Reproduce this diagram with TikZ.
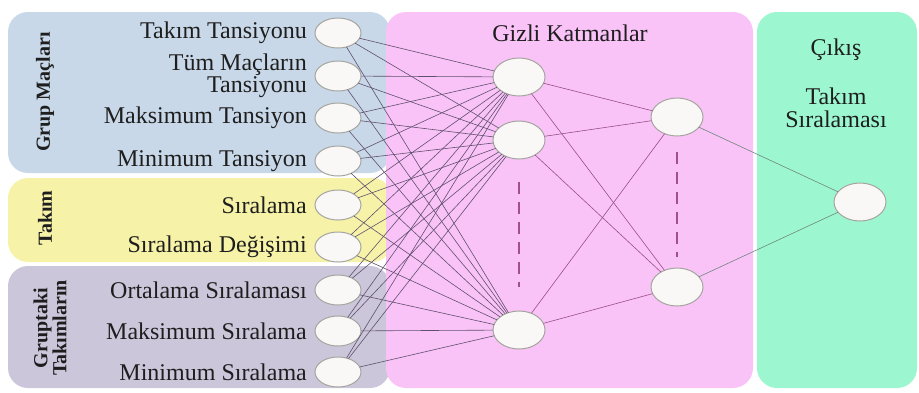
\documentclass[tikz,border=0pt]{standalone}
\usepackage{fontspec}
\setmainfont{Liberation Serif}
\usepackage{tkz-graph}
\usetikzlibrary{shapes.geometric}

\begin{document}
\begin{tikzpicture}[x = 1pt, y = -1pt]
\tikzstyle{VertexStyle} = []
\tikzstyle{EdgeStyle} = [line width = 0.6pt, draw = {rgb,255:red,95; green,80; blue,110}]
\tikzstyle{inputStyle} = [shape = ellipse, minimum width = 46pt, minimum height = 30pt, inner sep = 0pt, draw = {rgb,255:red,165; green,165; blue,160}, line width = 1pt, fill = {rgb,255:red,250; green,248; blue,246}]
\tikzstyle{hiddenStyle} = [shape = ellipse, minimum width = 52pt, minimum height = 38pt, inner sep = 0pt, draw = {rgb,255:red,165; green,165; blue,160}, line width = 1pt, fill = {rgb,255:red,250; green,248; blue,246}]
\tikzstyle{groupStyle} = [rounded corners = 20pt]
\tikzstyle{labelStyle} = [font = \fontsize{24}{22.5}\selectfont, text = {rgb,255:red,30; green,30; blue,30}, inner sep = 0pt]
\tikzstyle{titleStyle} = [font = \bfseries\fontsize{20}{19}\selectfont, text = {rgb,255:red,30; green,30; blue,30}, rotate = 90, inner sep = 0pt, align = center]
\tikzstyle{dashStyle} = [line width = 2.5pt, dash pattern = on 12pt off 8pt, draw = {rgb,255:red,160; green,80; blue,140}]
\useasboundingbox (0,0) rectangle (919,392);
% grup kutulari
\fill[groupStyle, fill = {rgb,255:red,200; green,216; blue,232}] (8,12) rectangle (390,173);
\fill[groupStyle, fill = {rgb,255:red,246; green,243; blue,168}] (8,178) rectangle (392,262);
\fill[groupStyle, fill = {rgb,255:red,204; green,198; blue,218}] (8,266) rectangle (390,388);
\fill[groupStyle, fill = {rgb,255:red,250; green,195; blue,247}] (386,12) rectangle (753,388);
\fill[groupStyle, fill = {rgb,255:red,156; green,247; blue,208}] (757,12) rectangle (917,388);
% basliklar
\node[titleStyle] (grup) at (45,92) {Grup Maçları};
\node[titleStyle] (takim) at (45,218) {Takım};
\node[titleStyle] (gruptaki) at (50,328) {Gruptaki\\Takımların};
\node[labelStyle] (gizli) at (570,33) {Gizli Katmanlar};
\node[labelStyle] (cikis) at (836,50) {Çıkış};
\node[labelStyle, align = center] (sira) at (836,108) {Takım\\Sıralaması};
% girdiler
\Vertex[style = inputStyle, x = 338, y = 33, NoLabel]{i1}
\Vertex[style = inputStyle, x = 338, y = 76, NoLabel]{i2}
\Vertex[style = inputStyle, x = 338, y = 118, NoLabel]{i3}
\Vertex[style = inputStyle, x = 338, y = 161, NoLabel]{i4}
\Vertex[style = inputStyle, x = 338, y = 205, NoLabel]{i5}
\Vertex[style = inputStyle, x = 338, y = 247, NoLabel]{i6}
\Vertex[style = inputStyle, x = 338, y = 290, NoLabel]{i7}
\Vertex[style = inputStyle, x = 338, y = 331, NoLabel]{i8}
\Vertex[style = inputStyle, x = 338, y = 372, NoLabel]{i9}
\node[labelStyle, anchor = east] at ([xshift = -8pt]i1.west) {Takım Tansiyonu};
\node[labelStyle, anchor = east, align = right] at ([xshift = -8pt]i2.west) {Tüm Maçların\\Tansiyonu};
\node[labelStyle, anchor = east] at ([xshift = -8pt]i3.west) {Maksimum Tansiyon};
\node[labelStyle, anchor = east] at ([xshift = -8pt]i4.west) {Minimum Tansiyon};
\node[labelStyle, anchor = east] at ([xshift = -8pt]i5.west) {Sıralama};
\node[labelStyle, anchor = east] at ([xshift = -8pt]i6.west) {Sıralama Değişimi};
\node[labelStyle, anchor = east] at ([xshift = -8pt]i7.west) {Ortalama Sıralaması};
\node[labelStyle, anchor = east] at ([xshift = -8pt]i8.west) {Maksimum Sıralama};
\node[labelStyle, anchor = east] at ([xshift = -8pt]i9.west) {Minimum Sıralama};
% gizli katmanlar
\Vertex[style = hiddenStyle, x = 519, y = 77, NoLabel]{h1}
\Vertex[style = hiddenStyle, x = 519, y = 140, NoLabel]{h2}
\Vertex[style = hiddenStyle, x = 519, y = 330, NoLabel]{h3}
\Vertex[style = hiddenStyle, x = 677, y = 117, NoLabel]{k1}
\Vertex[style = hiddenStyle, x = 677, y = 287, NoLabel]{k2}
\Vertex[style = hiddenStyle, x = 860, y = 202, NoLabel]{o1}
\draw[dashStyle] (519,182) -- (519,287);
\draw[dashStyle] (677,152) -- (677,257);
% baglantilar
\foreach \a in {1,...,9}{
  \foreach \b in {1,2,3}{
    \Edge(i\a)(h\b)
  }
}
\tikzstyle{EdgeStyle} = [line width = 0.6pt, draw = {rgb,255:red,150; green,80; blue,135}]
\foreach \b in {1,2,3}{
  \Edge(h\b)(k1)
  \Edge(h\b)(k2)
}
\tikzstyle{EdgeStyle} = [line width = 0.6pt, draw = {rgb,255:red,110; green,135; blue,125}]
\Edge(k1)(o1)
\Edge(k2)(o1)
\end{tikzpicture}
\end{document}
